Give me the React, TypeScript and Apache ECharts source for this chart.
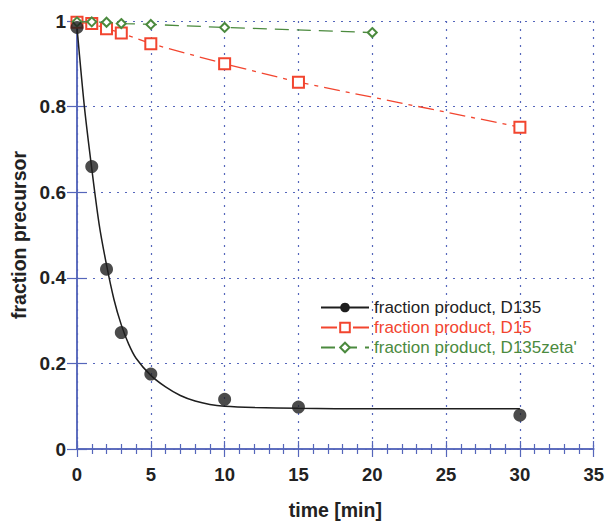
import React, { useEffect, useRef } from "react";
import * as echarts from "echarts";

const xTicks = [0, 5, 10, 15, 20, 25, 30, 35];
const yTicks = [0, 0.2, 0.4, 0.6, 0.8, 1];

// measured points, D135
const d135Time = [0, 1, 2, 3, 5, 10, 15, 30];
const d135Value = [0.985, 0.66, 0.42, 0.272, 0.175, 0.116, 0.098, 0.079];

// fitted curve for D135
const fitTime = [0, 0.5, 1, 1.5, 2, 2.5, 3, 3.5, 4, 5, 6, 7, 8, 9, 10, 12, 15, 20, 30];
const fitValue = [0.985, 0.8, 0.655, 0.525, 0.43, 0.35, 0.29, 0.245, 0.212, 0.172, 0.145, 0.125, 0.112, 0.104, 0.1, 0.097, 0.095, 0.094, 0.094];

// D15
const d15Time = [0, 1, 2, 3, 5, 10, 15, 30];
const d15Value = [0.997, 0.994, 0.982, 0.972, 0.947, 0.9, 0.857, 0.752];

// D135zeta'
const zetaTime = [0, 1, 2, 3, 5, 10, 20];
const zetaValue = [0.998, 0.998, 0.997, 0.994, 0.992, 0.985, 0.973];

const names = ["fraction product, D135", "fraction product, D15", "fraction product, D135zeta'"];

const zip = (a: number[], b: number[]) => a.map((v, i) => [v, b[i]]);

const AXIS = "#5566bb";
const BLACK = "#1e1e1e";
const RED = "#f2452f";
const GREEN = "#4b8a3e";
const FONT = "'Liberation Sans', Arial, sans-serif";

export default function App() {
  const ref = useRef<HTMLDivElement>(null);
  useEffect(() => {
    if (!ref.current) return;
    const chart = echarts.init(ref.current, null, { renderer: "svg" });
    const xBase = {
      type: "value" as const,
      min: xTicks[0],
      max: xTicks[xTicks.length - 1],
      interval: 5,
      axisLine: { show: true, lineStyle: { color: AXIS, width: 1.5 } },
      axisTick: { show: true, inside: true, length: 8, lineStyle: { color: AXIS, width: 1.2 } },
      minorTick: { show: true, splitNumber: 5, length: 5, lineStyle: { color: AXIS, width: 1.2 } },
    };
    const yBase = {
      type: "value" as const,
      min: yTicks[0],
      max: yTicks[yTicks.length - 1],
      interval: 0.2,
      axisLine: { show: true, lineStyle: { color: AXIS, width: 1.5 } },
      axisTick: { show: true, inside: true, length: 10, lineStyle: { color: AXIS, width: 1.2 } },
    };
    chart.setOption({
      animation: false,
      backgroundColor: "#ffffff",
      grid: { left: 77, right: 13, top: 21, bottom: 73, containLabel: false },
      legend: {
        orient: "vertical",
        left: 315,
        top: 294,
        itemWidth: 48,
        itemHeight: 12,
        itemGap: 3,
        textStyle: { fontFamily: FONT, fontSize: 17, lineHeight: 17 },
        data: [
          { name: names[0], textStyle: { color: "#222222" } },
          { name: names[1], textStyle: { color: RED } },
          { name: names[2], textStyle: { color: GREEN } },
        ],
      },
      xAxis: [
        {
          ...xBase,
          position: "bottom",
          name: "time [min]",
          nameLocation: "middle",
          nameGap: 51,
          nameTextStyle: { fontFamily: FONT, fontSize: 19.5, fontWeight: "bold", color: "#222222" },
          axisLabel: { show: true, margin: 16, fontFamily: FONT, fontSize: 18.5, fontWeight: "bold", color: "#222222", showMaxLabel: true, showMinLabel: true },
          splitLine: { show: true, lineStyle: { color: AXIS, type: [2, 6], width: 1.2 } },
        },
        {
          ...xBase,
          position: "top",
          axisLabel: { show: false },
          splitLine: { show: false },
        },
      ],
      yAxis: [
        {
          ...yBase,
          position: "left",
          name: "fraction precursor",
          nameLocation: "middle",
          nameGap: 45,
          nameTextStyle: { fontFamily: FONT, fontSize: 19.5, fontWeight: "bold", color: "#222222" },
          axisLabel: {
            show: true,
            margin: 11,
            fontFamily: FONT,
            fontSize: 19,
            fontWeight: "bold",
            color: "#222222",
            formatter: (v: number) => (v === 0 || v === 1 ? String(v) : v.toFixed(1)),
          },
          splitLine: { show: true, lineStyle: { color: AXIS, type: [2, 6], width: 1.2 } },
        },
        {
          ...yBase,
          position: "right",
          axisLabel: { show: false },
          splitLine: { show: false },
        },
      ],
      series: [
        {
          name: names[0],
          type: "line",
          data: zip(fitTime, fitValue),
          smooth: 0.3,
          symbol: "circle",
          symbolSize: 12,
          showSymbol: false,
          itemStyle: { color: BLACK },
          lineStyle: { color: BLACK, width: 1.5 },
          clip: false,
          z: 2,
        },
        {
          name: "D135 points",
          type: "scatter",
          data: zip(d135Time, d135Value),
          symbol: "circle",
          symbolSize: 13,
          itemStyle: { color: BLACK },
          clip: false,
          z: 5,
        },
        {
          name: names[1],
          type: "line",
          data: zip(d15Time, d15Value),
          symbol: "emptyRect",
          symbolSize: 11,
          showSymbol: true,
          itemStyle: { color: RED, borderWidth: 1.3 },
          lineStyle: { color: RED, width: 1.3, type: [16, 6, 4, 6] },
          clip: false,
          z: 3,
        },
        {
          name: names[2],
          type: "line",
          data: zip(zetaTime, zetaValue),
          symbol: "emptyDiamond",
          symbolSize: 9,
          showSymbol: true,
          itemStyle: { color: GREEN, borderWidth: 1.3 },
          lineStyle: { color: GREEN, width: 1.3, type: [14, 8] },
          clip: false,
          z: 4,
        },
      ],
    });
    return () => chart.dispose();
  }, []);
  return <div ref={ref} style={{ position: "fixed", left: 0, top: 0, width: 607, height: 525 }} />;
}
